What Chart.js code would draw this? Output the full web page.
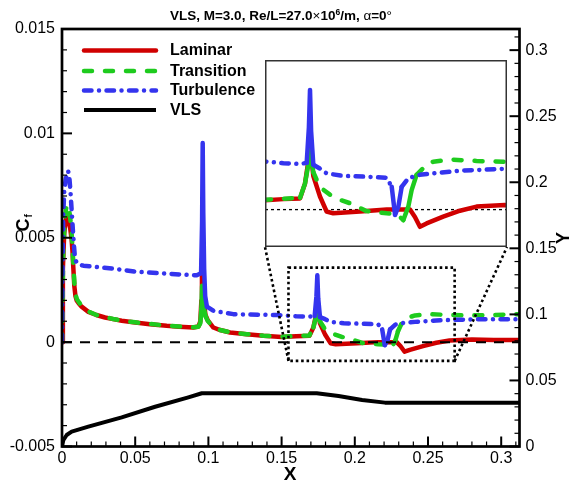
<!DOCTYPE html>
<html>
<head>
<meta charset="utf-8">
<title>VLS skin friction</title>
<script src="https://cdn.jsdelivr.net/npm/chart.js@4.4.1/dist/chart.umd.min.js"></script>
<style>
  html, body { margin: 0; padding: 0; background: #ffffff; }
  #wrap { position: relative; width: 570px; height: 483px; overflow: hidden; }
  #main { position: absolute; left: 0; top: 0; }
  #inset { position: absolute; left: 265px; top: 60px; background: #ffffff; }
</style>
</head>
<body>
<div id="wrap">
  <canvas id="main" width="570" height="483"></canvas>
  <canvas id="inset" width="242" height="187"></canvas>
</div>
<script>
// ---- Skin-friction distributions along the vehicle (X in m) ----
const laminarX = [0, 0.0006, 0.0015, 0.0025, 0.0032, 0.0042, 0.0055, 0.0066, 0.0072, 0.0077, 0.0084, 0.0092, 0.0100, 0.0115, 0.0134, 0.018, 0.0235, 0.0294, 0.035, 0.0408, 0.050, 0.060, 0.0715, 0.080, 0.0897, 0.0932, 0.0945, 0.0952, 0.0956, 0.0962, 0.0970, 0.0980, 0.0995, 0.1034, 0.108, 0.1148, 0.1262, 0.1376, 0.150, 0.160, 0.169, 0.1717, 0.1735, 0.1745, 0.1762, 0.1798, 0.1834, 0.187, 0.2015, 0.216, 0.2286, 0.2313, 0.234, 0.2376, 0.2466, 0.2557, 0.2647, 0.280, 0.295, 0.3125];
const laminarCf = [0, 0.0035, 0.0052, 0.0058, 0.0060, 0.0059, 0.0055, 0.0049, 0.0043, 0.0036, 0.0027, 0.0022, 0.0020, 0.00185, 0.0017, 0.00145, 0.0013, 0.00118, 0.0011, 0.00102, 0.00094, 0.00086, 0.00078, 0.00074, 0.0007, 0.00075, 0.0010, 0.0020, 0.0040, 0.0030, 0.0019, 0.0013, 0.00105, 0.0007, 0.00058, 0.00046, 0.00038, 0.0003, 0.00025, 0.00028, 0.0003, 0.0007, 0.0013, 0.0017, 0.0009, 0.00035, -0.00005, -0.0001, -0.00005, 0.0, 0.0, -0.0002, -0.00046, -0.00037, -0.00019, -0.00003, 0.00008, 0.00012, 0.0001, 0.0001];

const transitionX = [0, 0.0008, 0.0018, 0.0028, 0.0039, 0.0050, 0.0060, 0.0068, 0.0074, 0.0079, 0.0086, 0.0094, 0.0102, 0.0117, 0.0136, 0.018, 0.0235, 0.0294, 0.035, 0.0408, 0.050, 0.060, 0.0715, 0.080, 0.0897, 0.0932, 0.0945, 0.0952, 0.0957, 0.0963, 0.0970, 0.0980, 0.0995, 0.1034, 0.108, 0.1148, 0.1262, 0.1376, 0.150, 0.160, 0.169, 0.1717, 0.1735, 0.1745, 0.1762, 0.1798, 0.1852, 0.1907, 0.1961, 0.205, 0.216, 0.2214, 0.225, 0.2277, 0.2295, 0.2322, 0.2376, 0.2412, 0.2503, 0.2647, 0.280, 0.295, 0.3125];
const transitionCf = [0, 0.0042, 0.0058, 0.0064, 0.0066, 0.0063, 0.0057, 0.0050, 0.0042, 0.0035, 0.0027, 0.00225, 0.00205, 0.0019, 0.00172, 0.00147, 0.0013, 0.0012, 0.00111, 0.00103, 0.00095, 0.00087, 0.00079, 0.00075, 0.00071, 0.00074, 0.0009, 0.0016, 0.0027, 0.0022, 0.0016, 0.00125, 0.00102, 0.0007, 0.00058, 0.00047, 0.00038, 0.00031, 0.00026, 0.00029, 0.00032, 0.0007, 0.0012, 0.0016, 0.0010, 0.0006, 0.0004, 0.00026, 0.00017, -0.00004, -0.0001, -0.00012, -0.00028, 0.00008, 0.00052, 0.00093, 0.0012, 0.00128, 0.00134, 0.0013, 0.00128, 0.0013, 0.00134];

const turbulenceX = [0, 0.0003, 0.0008, 0.0015, 0.0025, 0.0035, 0.0042, 0.0050, 0.0058, 0.0066, 0.0074, 0.0082, 0.0089, 0.0100, 0.0120, 0.0146, 0.020, 0.026, 0.0374, 0.051, 0.067, 0.0829, 0.092, 0.0950, 0.0957, 0.0961, 0.0965, 0.0971, 0.0978, 0.0990, 0.1034, 0.117, 0.1285, 0.1467, 0.160, 0.169, 0.1726, 0.1738, 0.1744, 0.1750, 0.1762, 0.1797, 0.1834, 0.1924, 0.205, 0.216, 0.2187, 0.2205, 0.2223, 0.2241, 0.2277, 0.2339, 0.2411, 0.2557, 0.280, 0.295, 0.3125];
const turbulenceCf = [0, 0.0030, 0.0060, 0.0072, 0.0078, 0.0081, 0.0082, 0.0079, 0.0072, 0.0063, 0.0054, 0.0046, 0.0040, 0.0038, 0.00372, 0.00366, 0.00362, 0.00358, 0.0035, 0.00337, 0.0033, 0.00323, 0.0032, 0.0033, 0.0058, 0.00954, 0.0062, 0.0035, 0.0022, 0.0017, 0.0015, 0.00134, 0.00132, 0.0013, 0.00124, 0.00122, 0.00125, 0.0022, 0.0032, 0.0021, 0.0012, 0.0011, 0.00097, 0.0009, 0.00088, 0.00085, 0.00061, -0.00014, 0.00008, 0.00061, 0.00084, 0.00093, 0.00097, 0.00104, 0.00109, 0.0011, 0.0011];

// ---- VLS body contour (right axis, Y in m) ----
const vlsX = [0, 0.0009, 0.0032, 0.0066, 0.018, 0.0408, 0.0636, 0.0863, 0.0955, 0.174, 0.1889, 0.205, 0.2206, 0.3125];
const vlsY = [0, 0.0049, 0.0087, 0.0112, 0.0150, 0.0221, 0.0301, 0.0372, 0.0403, 0.0403, 0.0382, 0.0352, 0.0332, 0.0332];

// ---- Axis ticks and labels ----
const xTicks = [0, 0.05, 0.1, 0.15, 0.2, 0.25, 0.3];
const xTickLabels = ['0', '0.05', '0.1', '0.15', '0.2', '0.25', '0.3'];
const cfTicks = [-0.005, 0, 0.005, 0.01, 0.015];
const cfTickLabels = ['-0.005', '0', '0.005', '0.01', '0.015'];
const yTicks = [0, 0.05, 0.1, 0.15, 0.2, 0.25, 0.3];
const yTickLabels = ['0', '0.05', '0.1', '0.15', '0.2', '0.25', '0.3'];

// ---- Detail window (X range, Cf range) and the inset's ranges ----
const zoomBoxX = [0.1547, 0.2682];
const zoomBoxCf = [-0.0009, 0.00357];
const insetRangeX = [0.15, 0.2812];
const insetRangeCf = [-0.001, 0.004];

const FONT = '"Liberation Sans", Arial, Helvetica, sans-serif';
const INSET = { left: 265, top: 60, width: 242, height: 187 };

function pairs(xs, ys) { return xs.map((x, i) => ({ x: x, y: ys[i] })); }

// the narrow spikes downstream of the nose are drawn solid so the pattern does not break them up
const steepSolid = ctx => {
  const pt = ctx.chart.data.datasets[ctx.datasetIndex].data[ctx.p0DataIndex];
  const dx = Math.abs(ctx.p1.x - ctx.p0.x), dy = Math.abs(ctx.p1.y - ctx.p0.y);
  return (pt.x > 0.05 && dy > 6 && dy > 2.5 * dx) ? [] : undefined;
};

function seriesStyles() {
  return [
    { label: 'Laminar', data: pairs(laminarX, laminarCf), borderColor: '#d00000', borderWidth: 4.5, borderDash: [], borderCapStyle: 'round', order: 4 },
    { label: 'Transition', data: pairs(transitionX, transitionCf), borderColor: '#1ecb1e', borderWidth: 4.5, borderDash: [8, 13], borderCapStyle: 'round', order: 3, segment: { borderDash: steepSolid } },
    { label: 'Turbulence', data: pairs(turbulenceX, turbulenceCf), borderColor: '#3434ee', borderWidth: 4.5, borderDash: [7.5, 7.5, 0.01, 7.5], borderCapStyle: 'round', order: 2, segment: { borderDash: steepSolid } }
  ].map(d => Object.assign(d, { showLine: true, pointRadius: 0, pointHoverRadius: 0, tension: 0, borderJoinStyle: 'round', fill: false }));
}

function lineAt(ctx, x1, y1, x2, y2) { ctx.beginPath(); ctx.moveTo(x1, y1); ctx.lineTo(x2, y2); ctx.stroke(); }

// Zero line, frame, inward ticks, detail box and leader lines
const framePlugin = {
  id: 'frame',
  afterDatasetsDraw(chart) {
    const ctx = chart.ctx, a = chart.chartArea;
    const sx = chart.scales.x, sy = chart.scales.y, sy2 = chart.scales.y2;
    ctx.save();
    // Cf = 0 reference
    ctx.strokeStyle = '#000'; ctx.lineWidth = 2; ctx.setLineDash([10, 8]);
    const y0 = sy.getPixelForValue(0);
    lineAt(ctx, a.left, y0, a.right, y0);
    ctx.setLineDash([]);

    // frame
    ctx.lineWidth = 2.7;
    ctx.strokeRect(a.left, a.top, a.right - a.left, a.bottom - a.top);

    // bottom ticks
    for (let k = 0; k <= 31; k++) {
      const v = k * 0.01, px = sx.getPixelForValue(v);
      const major = k % 5 === 0;
      ctx.lineWidth = major ? 2 : 1.2;
      lineAt(ctx, px, a.bottom, px, a.bottom - (major ? 10 : 5));
    }
    // left ticks
    for (let k = -5; k <= 15; k++) {
      const py = sy.getPixelForValue(k * 0.001);
      const major = k % 5 === 0;
      ctx.lineWidth = major ? 2 : 1.2;
      lineAt(ctx, a.left, py, a.left + (major ? 10 : 5), py);
    }
    // right ticks
    for (let k = 0; k <= 31; k++) {
      const py = sy2.getPixelForValue(k * 0.01);
      if (py < a.top) continue;
      const major = k % 5 === 0;
      ctx.lineWidth = major ? 2 : 1.2;
      lineAt(ctx, a.right, py, a.right - (major ? 10 : 5), py);
    }

    // detail window
    const bx1 = sx.getPixelForValue(zoomBoxX[0]), bx2 = sx.getPixelForValue(zoomBoxX[1]);
    const by1 = sy.getPixelForValue(zoomBoxCf[1]), by2 = sy.getPixelForValue(zoomBoxCf[0]);
    ctx.lineWidth = 2.6; ctx.setLineDash([2.6, 2.8]); ctx.lineCap = 'butt';
    ctx.strokeRect(bx1, by1, bx2 - bx1, by2 - by1);
    const ib = INSET.top + INSET.height;
    lineAt(ctx, bx1, by2, INSET.left, ib);
    lineAt(ctx, bx2, by2, INSET.left + INSET.width, ib);
    ctx.restore();
  },
  afterDraw(chart) {
    const ctx = chart.ctx;
    ctx.save();
    // legend
    const rows = [50.5, 71, 90.5, 110];
    chart.data.datasets.forEach((d, i) => {
      ctx.strokeStyle = d.borderColor; ctx.lineWidth = d.borderWidth;
      ctx.setLineDash(d.borderDash || []); ctx.lineCap = d.borderCapStyle || 'butt';
      lineAt(ctx, 84, rows[i], 156, rows[i]);
      ctx.setLineDash([]);
      ctx.fillStyle = '#000'; ctx.font = 'bold 16px ' + FONT;
      ctx.textBaseline = 'middle'; ctx.textAlign = 'left';
      ctx.fillText(d.label, 170, rows[i] + 0.5);
    });

    // title with superscript
    const parts = [
      { t: 'VLS, M=3.0, Re/L=27.0', f: 'bold 13.5px ' + FONT, dy: 0 },
      { t: '\u00d7', f: '13.5px ' + FONT, dy: 0 },
      { t: '10', f: 'bold 13.5px ' + FONT, dy: 0 },
      { t: '6', f: 'bold 8.5px ' + FONT, dy: -5 },
      { t: '/m, ', f: 'bold 13.5px ' + FONT, dy: 0 },
      { t: '\u03b1', f: '13.5px ' + FONT, dy: 0 },
      { t: '=0', f: 'bold 13.5px ' + FONT, dy: 0 },
      { t: '\u00b0', f: '13.5px ' + FONT, dy: 0 }
    ];
    let total = 0;
    parts.forEach(p => { ctx.font = p.f; p.w = ctx.measureText(p.t).width; total += p.w; });
    let cx = 281 - total / 2;
    ctx.textBaseline = 'alphabetic'; ctx.textAlign = 'left';
    parts.forEach(p => { ctx.font = p.f; ctx.fillText(p.t, cx, 20 + p.dy); cx += p.w; });

    // axis titles
    ctx.font = 'bold 19px ' + FONT; ctx.textAlign = 'center'; ctx.textBaseline = 'middle';
    ctx.fillText('X', 290, 475);

    ctx.save();
    ctx.translate(24, 222); ctx.rotate(-Math.PI / 2);
    ctx.font = 'bold 18px ' + FONT; ctx.textAlign = 'left'; ctx.textBaseline = 'middle';
    const cw = ctx.measureText('C').width;
    ctx.fillText('C', -cw / 2 - 3, 0);
    ctx.font = 'bold 10px ' + FONT;
    ctx.fillText('f', cw / 2 - 2, 5);
    ctx.restore();

    ctx.save();
    ctx.translate(564, 238); ctx.rotate(-Math.PI / 2);
    ctx.font = 'bold 18px ' + FONT; ctx.textAlign = 'center'; ctx.textBaseline = 'middle';
    ctx.fillText('Y', 0, 0);
    ctx.restore();
    ctx.restore();
  }
};

const mainDatasets = seriesStyles();
mainDatasets.push({
  label: 'VLS', data: pairs(vlsX, vlsY), yAxisID: 'y2', borderColor: '#000000', borderWidth: 4,
  borderDash: [], borderCapStyle: 'butt', order: 1, showLine: true, pointRadius: 0, pointHoverRadius: 0,
  tension: 0, borderJoinStyle: 'round', fill: false
});

function tickScale(min, max, ticks, labels, padding, fit) {
  return {
    type: 'linear', min: min, max: max,
    afterBuildTicks: s => { s.ticks = ticks.map(v => ({ value: v })); },
    afterFit: fit,
    ticks: { callback: (v, i) => labels[i], font: { family: FONT, size: 16 }, color: '#000', padding: padding, maxRotation: 0, autoSkip: false },
    grid: { display: false, drawTicks: false },
    border: { display: false }
  };
}

new Chart(document.getElementById('main'), {
  type: 'scatter',
  data: { datasets: mainDatasets },
  options: {
    responsive: false, animation: false, devicePixelRatio: 1,
    layout: { padding: { top: 29, left: 0, right: 0, bottom: 0 } },
    scales: {
      x: Object.assign(tickScale(0, 0.3125, xTicks, xTickLabels, 2, s => { s.height = 36.5; }), { position: 'bottom' }),
      y: Object.assign(tickScale(-0.005, 0.015, cfTicks, cfTickLabels, 7, s => { s.width = 62; }), { position: 'left' }),
      y2: Object.assign(tickScale(0, 0.316, yTicks, yTickLabels, 6, s => { s.width = 50.5; }), { position: 'right' })
    },
    plugins: { legend: { display: false }, tooltip: { enabled: false }, title: { display: false } }
  },
  plugins: [framePlugin]
});

// Inset: enlarged view of the detail window
const insetPlugin = {
  id: 'insetFrame',
  beforeDatasetsDraw(chart) {
    const ctx = chart.ctx, a = chart.chartArea, sy = chart.scales.y;
    ctx.save();
    ctx.strokeStyle = '#000'; ctx.lineWidth = 1.3; ctx.setLineDash([3, 3]);
    const y0 = sy.getPixelForValue(0);
    lineAt(ctx, a.left, y0, a.right, y0);
    ctx.restore();
  },
  afterDraw(chart) {
    const ctx = chart.ctx;
    ctx.save();
    ctx.strokeStyle = '#333'; ctx.lineWidth = 1.5;
    ctx.strokeRect(0.75, 0.75, chart.width - 1.5, chart.height - 1.5);
    ctx.restore();
  }
};

new Chart(document.getElementById('inset'), {
  type: 'scatter',
  data: { datasets: seriesStyles() },
  options: {
    responsive: false, animation: false, devicePixelRatio: 1,
    layout: { padding: 0 },
    scales: {
      x: { type: 'linear', min: insetRangeX[0], max: insetRangeX[1], display: false },
      y: { type: 'linear', min: insetRangeCf[0], max: insetRangeCf[1], display: false }
    },
    plugins: { legend: { display: false }, tooltip: { enabled: false } }
  },
  plugins: [insetPlugin]
});
</script>
</body>
</html>
